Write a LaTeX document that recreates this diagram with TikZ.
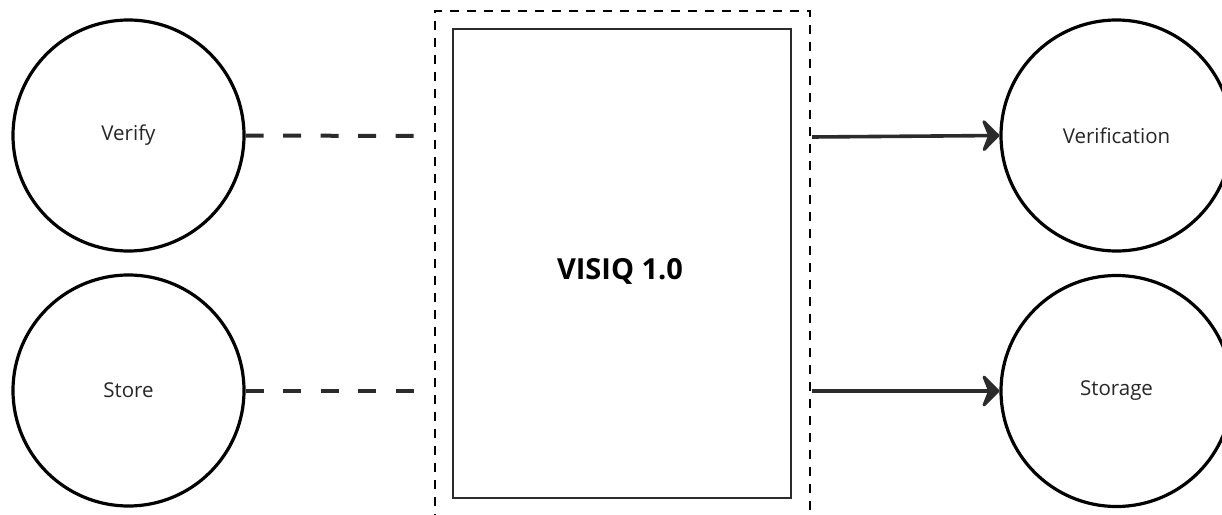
\documentclass[tikz,border=0pt]{standalone}
\usepackage{fontspec}
\setmainfont{Open Sans}
\usetikzlibrary{arrows.meta}
\definecolor{ink}{HTML}{2B2B2B}
\definecolor{txt}{HTML}{262626}
\tikzset{
  bubble/.style={circle, draw=black, line width=3.2pt, minimum size=231pt, inner sep=0pt,
    font=\fontsize{20.5pt}{24pt}\selectfont, text=txt},
  corebox/.style={rectangle, draw=ink, line width=2.2pt, minimum width=338pt, minimum height=469pt, inner sep=0pt},
  frame/.style={draw=black, line width=1.3pt, dash pattern=on 9pt off 8pt},
  dashlink/.style={draw=ink, line width=4pt, dash pattern=on 18pt off 19.5pt},
  arrowlink/.style={draw=ink, line width=3.6pt, -{Stealth[length=20pt 0 0,width=40pt 0 0,inset=8pt 0 0,round]}},
  title/.style={font=\bfseries\fontsize{29pt}{34pt}\selectfont, text=black, inner sep=0pt}
}
\begin{document}
\begin{tikzpicture}[x=1pt,y=-1pt]
\useasboundingbox (0,0) rectangle (1222,514);
% outer dashed frame (open at the bottom, runs past the page)
\draw[frame] (435,540) -- (435,11) -- (810,11) -- (810,540);
% core box
\node[corebox] (core) at (622,263.5) {};
\node[title] (name) at (620,271) {VISIQ 1.0};
% circles
\node[bubble] (verify) at (128.5,135.5) {Verify};
\node[bubble] (store) at (128.5,390.5) {Store};
\node[bubble] (verification) at (1116.5,135.5) {Verification};
\node[bubble] (storage) at (1116.5,391) {Storage};
% free ends
\coordinate (vend) at (418,136);
\coordinate (send) at (418,390.5);
\coordinate (vstart) at (812,137);
\coordinate (sstart) at (812,391);
% connectors
\draw[dashlink] (verify.east) -- (vend);
\draw[dashlink] (store.east) -- (send);
\draw[arrowlink] (vstart) -- (verification.west);
\draw[arrowlink] (sstart) -- (storage.west);
\end{tikzpicture}
\end{document}
